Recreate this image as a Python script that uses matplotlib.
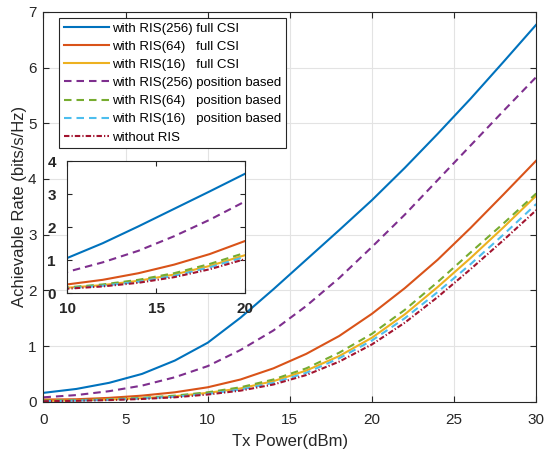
import matplotlib
matplotlib.use("Agg")
import matplotlib.pyplot as plt

plt.rcParams['font.family'] = ['Liberation Sans', 'DejaVu Sans']

# Tx power (dBm)
tx_power = [0, 2, 4, 6, 8, 10, 12, 14, 16, 18, 20, 22, 24, 26, 28, 30]

ris256_full = [0.16, 0.23, 0.34, 0.50, 0.74, 1.06, 1.51, 2.02, 2.55, 3.08, 3.62, 4.20, 4.81, 5.44, 6.10, 6.77]
ris64_full = [0.04, 0.045, 0.07, 0.11, 0.17, 0.26, 0.40, 0.60, 0.86, 1.18, 1.58, 2.04, 2.55, 3.12, 3.72, 4.33]
ris16_full = [0.015, 0.025, 0.04, 0.065, 0.10, 0.16, 0.24, 0.37, 0.56, 0.82, 1.15, 1.57, 2.06, 2.58, 3.13, 3.70]
ris256_pos = [0.08, 0.12, 0.19, 0.29, 0.44, 0.64, 0.93, 1.28, 1.72, 2.22, 2.78, 3.36, 3.98, 4.60, 5.22, 5.83]
ris64_pos = [0.02, 0.03, 0.045, 0.07, 0.11, 0.17, 0.26, 0.40, 0.60, 0.88, 1.22, 1.65, 2.15, 2.68, 3.20, 3.74]
ris16_pos = [0.012, 0.02, 0.035, 0.06, 0.09, 0.14, 0.22, 0.34, 0.52, 0.78, 1.10, 1.50, 1.97, 2.47, 3.00, 3.55]
no_ris = [0.01, 0.017, 0.03, 0.05, 0.08, 0.13, 0.20, 0.31, 0.48, 0.72, 1.03, 1.42, 1.88, 2.38, 2.90, 3.44]

labels = ["with RIS(256) full CSI",
          "with RIS(64)   full CSI",
          "with RIS(16)   full CSI",
          "with RIS(256) position based",
          "with RIS(64)   position based",
          "with RIS(16)   position based",
          "without RIS"]

series = [ris256_full, ris64_full, ris16_full, ris256_pos, ris64_pos, ris16_pos, no_ris]
colors = ['#0072BD', '#D95319', '#EDB120', '#7E2F8E', '#77AC30', '#4DBEEE', '#A2142F']
dash = (0, (3.6, 2.4))
dashdot = (0, (2.6, 1.0, 0.6, 1.0))
styles = ['-', '-', '-', dash, dash, dash, dashdot]

axcol = '#262626'

fig = plt.figure(figsize=(5.5, 4.55), dpi=100)
ax = fig.add_axes([0.079, 0.117, 0.896, 0.857])

for y, c, ls, lab in zip(series, colors, styles, labels):
    ax.plot(tx_power, y, color=c, linestyle=ls, linewidth=1.5, label=lab)

ax.set_xlim(0, 30)
ax.set_ylim(0, 7)
ax.set_xticks([0, 5, 10, 15, 20, 25, 30])
ax.set_yticks(range(0, 8))
ax.grid(True, color='#e3e3e3', linewidth=0.8)
ax.set_axisbelow(True)
ax.tick_params(direction='in', top=True, right=True, labelsize=11, colors=axcol, length=4)
ax.tick_params(axis='x', pad=8)
ax.tick_params(axis='y', pad=5)
for s in ax.spines.values():
    s.set_color(axcol)
    s.set_linewidth(0.8)
ax.set_xlabel('Tx Power(dBm)', fontsize=12, color=axcol, labelpad=5)
ax.set_ylabel('Achievable Rate (bits/s/Hz)', fontsize=12, color=axcol, labelpad=0.5)

leg = ax.legend(loc='upper left', bbox_to_anchor=(0.0325, 0.985), borderaxespad=0,
                fontsize=9.5, handlelength=3.4, handletextpad=0.25, labelspacing=0.45,
                borderpad=0.35, fancybox=False, framealpha=1, edgecolor=axcol)
leg.get_frame().set_linewidth(0.8)

# inset
ins = fig.add_axes([0.122, 0.356, 0.324, 0.29])
for y, c, ls in zip(series, colors, styles):
    ins.plot(tx_power, y, color=c, linestyle=ls, linewidth=1.5)
ins.set_xlim(10, 20)
ins.set_ylim(0, 4)
ins.set_xticks([10, 15, 20])
ins.set_yticks([0, 1, 2, 3, 4])
ins.tick_params(direction='in', top=True, right=True, labelsize=11, colors=axcol, length=3.5)
ins.tick_params(axis='x', pad=6.5)
ins.tick_params(axis='y', pad=8)
for lab in ins.get_xticklabels() + ins.get_yticklabels():
    lab.set_fontweight('bold')
for s in ins.spines.values():
    s.set_color(axcol)
    s.set_linewidth(0.8)

fig.savefig('out.png', dpi=100)
